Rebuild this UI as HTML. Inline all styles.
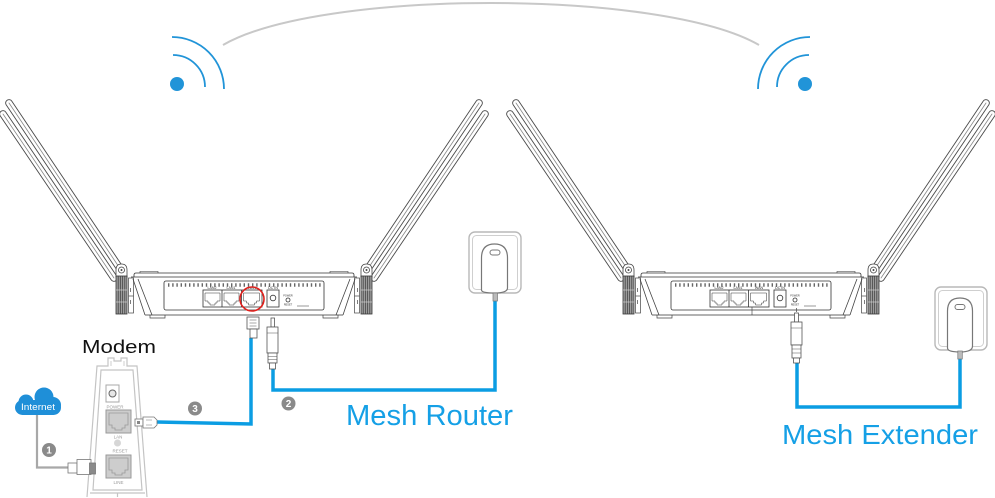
<!DOCTYPE html>
<html><head><meta charset="utf-8">
<style>html,body{margin:0;padding:0;background:#fff;}svg{display:block}</style>
</head><body>
<svg width="995" height="498" viewBox="0 0 995 498" xmlns="http://www.w3.org/2000/svg">
<defs>
 <g id="half">
   <g stroke-linecap="round" fill="none">
     <line x1="3" y1="114" x2="114" y2="278" stroke="#4a4a4a" stroke-width="7.6"/>
     <line x1="3" y1="114" x2="114" y2="278" stroke="#fff" stroke-width="5.8"/>
     <line x1="3" y1="114" x2="114" y2="278" stroke="#888" stroke-width="0.8"/>
     <line x1="9" y1="103" x2="121" y2="270" stroke="#4a4a4a" stroke-width="7.6"/>
     <line x1="9" y1="103" x2="121" y2="270" stroke="#fff" stroke-width="5.8"/>
     <line x1="9" y1="103" x2="121" y2="270" stroke="#888" stroke-width="0.8"/>
   </g>
   <path d="M116,277 L116,270 Q116,264 121.5,264 Q127,264 127,270 L127,277 Z" fill="#fff" stroke="#444" stroke-width="0.8"/>
   <circle cx="121.5" cy="270" r="3" fill="#fff" stroke="#444" stroke-width="0.8"/>
   <circle cx="121.5" cy="270" r="1" fill="#444"/>
   <rect x="116" y="276" width="11" height="38" fill="#9b9b9b" stroke="#333" stroke-width="0.8"/>
   <g stroke="#3c3c3c" stroke-width="0.7">
     <line x1="118.2" y1="276" x2="118.2" y2="314"/>
     <line x1="120.4" y1="276" x2="120.4" y2="314"/>
     <line x1="122.6" y1="276" x2="122.6" y2="314"/>
     <line x1="124.8" y1="276" x2="124.8" y2="314"/>
   </g>
   <g stroke="#e0e0e0" stroke-width="0.6">
     <line x1="116" y1="290" x2="127" y2="290"/>
     <line x1="116" y1="302" x2="127" y2="302"/>
   </g>
   <rect x="128.5" y="278" width="5" height="35" fill="#fff" stroke="#444" stroke-width="0.7"/>
   <g stroke="#444" stroke-width="0.7">
     <line x1="130.5" y1="288" x2="130.5" y2="292"/>
     <line x1="130.5" y1="300" x2="130.5" y2="304"/>
     <line x1="128.5" y1="296" x2="133.5" y2="296"/>
   </g>
   <path d="M133,279 L145,315 M138,279 L152,315" stroke="#444" stroke-width="0.8" fill="none"/>
   <path d="M150,315 V318 H165 V315" stroke="#444" stroke-width="0.7" fill="none"/>
 </g>
 <g id="router">
   <use href="#half"/>
   <use href="#half" transform="matrix(-1 0 0 1 488 0)"/>
   <g fill="none" stroke="#333" stroke-width="0.8">
     <path d="M131,277 H357"/>
     <path d="M134,277 V275 Q134,273 136,273 H352 Q354,273 354,275 V277"/>
     <path d="M140,273 V271.5 H158 V273 M348,273 V271.5 H330 V273" stroke-width="0.6"/>
     <line x1="145" y1="315" x2="343" y2="315"/>
     <rect x="164" y="281" width="160" height="29" rx="2"/>
   </g>
   <line x1="168" y1="285" x2="322" y2="285" stroke="#666" stroke-width="3.4" stroke-dasharray="1.4 2.8"/>
   <g fill="none" stroke="#333" stroke-width="0.8">
     <rect x="203" y="290" width="59" height="17"/>
     <line x1="222" y1="290" x2="222" y2="307"/>
     <line x1="241.5" y1="290" x2="241.5" y2="307"/>
     <path d="M205,293h15v8h-3v2h-2v2h-5v-2h-2v-2h-3z" stroke-width="0.5"/>
     <path d="M224,293h15v8h-3v2h-2v2h-5v-2h-2v-2h-3z" stroke-width="0.5"/>
     <path d="M243.5,293h16v8h-3v2h-2v2h-6v-2h-2v-2h-3z" stroke-width="0.5"/>
     <rect x="267" y="290" width="12" height="17"/>
     <circle cx="273" cy="298" r="2.8"/>
     <circle cx="288" cy="300" r="2"/>
     <line x1="297" y1="306" x2="309" y2="306" stroke-width="0.5"/>
   </g>
   <g font-family="Liberation Sans, sans-serif" font-size="3.6" fill="#333" text-anchor="middle">
     <text x="212" y="288.8">LAN2</text>
     <text x="231" y="288.8">LAN1</text>
     <text x="252" y="288.8">WAN</text>
     <text x="273" y="288.8">DC IN</text>
     <text x="288" y="296.5" font-size="2.5">POWER</text>
     <text x="288" y="305.5" font-size="2.5">RESET</text>
   </g>
 </g>
</defs>

<!-- wifi arc link -->
<path d="M223,45 C320,-11 662,-11 759,45" fill="none" stroke="#c8c8c8" stroke-width="2"/>
<g fill="none" stroke="#2194d8" stroke-width="1.8">
  <path d="M173,55 A32,32 0 0 1 205,87"/>
  <path d="M172,37 A52,52 0 0 1 224,89"/>
  <circle cx="177" cy="84" r="7" fill="#2194d8" stroke="none"/>
</g>
<g fill="none" stroke="#2194d8" stroke-width="1.8" transform="matrix(-1 0 0 1 982 0)">
  <path d="M173,55 A32,32 0 0 1 205,87"/>
  <path d="M172,37 A52,52 0 0 1 224,89"/>
  <circle cx="177" cy="84" r="7" fill="#2194d8" stroke="none"/>
</g>

<!-- routers -->
<use href="#router"/>
<use href="#router" transform="translate(507,0)"/>
<line x1="752" y1="307" x2="752" y2="315" stroke="#333" stroke-width="0.6"/>
<line x1="796.5" y1="308" x2="796.5" y2="312" stroke="#555" stroke-width="0.8"/>

<!-- red circle on WAN -->
<circle cx="252" cy="299" r="12" fill="none" stroke="#e0201c" stroke-width="1.6"/>

<!-- cables -->
<g fill="none" stroke="#0b9de3" stroke-width="3.5">
  <path d="M157,422 L251,424 V338"/>
  <path d="M273,368 V390 H495 V300"/>
  <path d="M797,362 V407 H960 V358"/>
</g>
<path d="M37,415 V467.5 H68" fill="none" stroke="#a8a8a8" stroke-width="2.2"/>

<!-- router WAN plug -->
<g stroke="#555" stroke-width="0.8" fill="#fff">
  <rect x="247" y="317" width="12" height="12"/>
  <rect x="250" y="329" width="7" height="9"/>
  <path d="M249.5,320 h7 M249.5,323 h7 M249.5,326 h7" stroke-width="0.5" fill="none"/>
</g>
<!-- router DC plug -->
<g stroke="#555" stroke-width="0.8" fill="#fff">
  <rect x="271" y="318" width="3.5" height="9"/>
  <rect x="267" y="327" width="11" height="26"/>
  <rect x="268" y="353" width="9" height="10"/>
  <rect x="269.5" y="363" width="6" height="6"/>
  <path d="M268,356.5 h9 M268,359.5 h9 M267,333 h11" stroke-width="0.5" fill="none"/>
</g>
<!-- extender DC plug -->
<g stroke="#555" stroke-width="0.8" fill="#fff">
  <rect x="794.5" y="313" width="4" height="9"/>
  <rect x="791" y="322" width="11" height="23"/>
  <rect x="792" y="345" width="9" height="13"/>
  <rect x="793.5" y="358" width="6" height="5"/>
  <path d="M792,349 h9 M792,353 h9 M791,328 h11" stroke-width="0.5" fill="none"/>
</g>

<!-- wall adapters -->
<g>
  <rect x="469" y="232" width="52" height="61" rx="6" fill="#fff" stroke="#b8b8b8" stroke-width="1.4"/>
  <rect x="472.5" y="235.5" width="45" height="54" rx="4" fill="none" stroke="#cfcfcf" stroke-width="1"/>
  <path d="M481.5,290 V258 Q481.5,244 494.5,244 Q507.5,244 507.5,258 V288 Q507.5,293 494.5,293 Q481.5,293 481.5,290 Z" fill="#fff" stroke="#777" stroke-width="1.2"/>
  <rect x="490" y="250" width="10" height="5" rx="2.5" fill="none" stroke="#777" stroke-width="1"/>
  <rect x="493" y="293" width="4.5" height="8" fill="#bbb" stroke="#777" stroke-width="0.7"/>
</g>
<g>
  <rect x="935" y="287" width="52" height="63" rx="6" fill="#fff" stroke="#b8b8b8" stroke-width="1.4"/>
  <rect x="938.5" y="290.5" width="45" height="56" rx="4" fill="none" stroke="#cfcfcf" stroke-width="1"/>
  <path d="M947.5,348 V311 Q947.5,298 960,298 Q972.5,298 972.5,311 V346 Q972.5,352 960,352 Q947.5,352 947.5,348 Z" fill="#fff" stroke="#777" stroke-width="1.2"/>
  <rect x="955" y="304.5" width="10" height="5" rx="2.5" fill="none" stroke="#777" stroke-width="1"/>
  <rect x="957.8" y="351" width="4.5" height="8" fill="#bbb" stroke="#777" stroke-width="0.7"/>
</g>

<!-- modem -->
<g fill="none" stroke="#c4c4c4" stroke-width="1.2">
  <path d="M87,497 L97,366 H108 V358 H114 V361 H121 V358 H127 V366 H137 L147,497"/>
  <path d="M111,361 V366 M124,361 V366" stroke-width="0.8"/>
  <path d="M93,490 L101,370 H133 L142,490 Z"/>
  <path d="M90,493 H145 M117.5,493 V497"/>
</g>
<rect x="106" y="385" width="13" height="17" fill="#fff" stroke="#a8a8a8" stroke-width="1"/>
<circle cx="112.5" cy="393.5" r="3.5" fill="#e6e6e6" stroke="#666" stroke-width="1"/>
<rect x="106" y="410" width="25" height="23" fill="#cdcdcd" stroke="#999" stroke-width="1"/>
<path d="M109,413 h19 v12 h-3 v3 h-3 v2 h-7 v-2 h-3 v-3 h-3 z" fill="none" stroke="#9a9a9a" stroke-width="0.8"/>
<circle cx="117.5" cy="443" r="3.5" fill="#d6d6d6"/>
<rect x="106" y="455" width="25" height="23" fill="#cdcdcd" stroke="#999" stroke-width="1"/>
<path d="M109,458 h19 v12 h-3 v3 h-3 v2 h-7 v-2 h-3 v-3 h-3 z" fill="none" stroke="#9a9a9a" stroke-width="0.8"/>
<g font-family="Liberation Sans, sans-serif" font-size="4.5" fill="#9a9a9a" text-anchor="middle">
  <text x="115" y="408.5">POWER</text>
  <text x="118" y="438.5">LAN</text>
  <text x="120" y="452.5">RESET</text>
  <text x="118.5" y="484">LINE</text>
</g>
<!-- modem LAN plug -->
<g stroke="#777" stroke-width="0.8" fill="#fff">
  <rect x="135" y="419" width="8" height="7"/>
  <path d="M143,417 H154 L157,420 V425 L154,428 H143 Z"/>
  <rect x="137" y="421" width="3" height="3" fill="#888" stroke="none"/>
  <path d="M146,420 h6 M146,425 h6" stroke-width="0.5" fill="none"/>
</g>
<!-- modem LINE plug -->
<g stroke="#777" stroke-width="0.8" fill="#fff">
  <rect x="68" y="463" width="9" height="10"/>
  <rect x="77" y="459.5" width="14" height="15"/>
  <rect x="89.5" y="463" width="6" height="11" fill="#8a8a8a"/>
</g>

<!-- internet cloud -->
<g fill="#1f8fd8">
  <circle cx="44" cy="397" r="9.5"/>
  <circle cx="26" cy="402" r="7.5"/>
  <circle cx="53" cy="405" r="8"/>
  <rect x="15" y="400" width="46" height="15" rx="7.5"/>
</g>
<text x="38" y="410" font-family="Liberation Sans, sans-serif" font-size="9" fill="#fff" text-anchor="middle" textLength="34" lengthAdjust="spacingAndGlyphs">Internet</text>

<!-- number badges -->
<g fill="#8a8a8a">
  <circle cx="49" cy="450" r="7"/>
  <circle cx="195" cy="408.5" r="7"/>
  <circle cx="288.5" cy="403.5" r="7"/>
</g>
<g font-family="Liberation Sans, sans-serif" font-size="10" font-weight="bold" fill="#fff" text-anchor="middle">
  <text x="49" y="453.6">1</text>
  <text x="195" y="412.1">3</text>
  <text x="288.5" y="407.1">2</text>
</g>

<!-- labels -->
<text x="82" y="353" font-family="Liberation Sans, sans-serif" font-size="18" fill="#111" textLength="74" lengthAdjust="spacingAndGlyphs">Modem</text>
<text x="346" y="425" font-family="Liberation Sans, sans-serif" font-size="29" fill="#15a0e6" textLength="167" lengthAdjust="spacingAndGlyphs">Mesh Router</text>
<text x="782" y="444" font-family="Liberation Sans, sans-serif" font-size="28" fill="#15a0e6" textLength="196" lengthAdjust="spacingAndGlyphs">Mesh Extender</text>
</svg>
</body></html>
